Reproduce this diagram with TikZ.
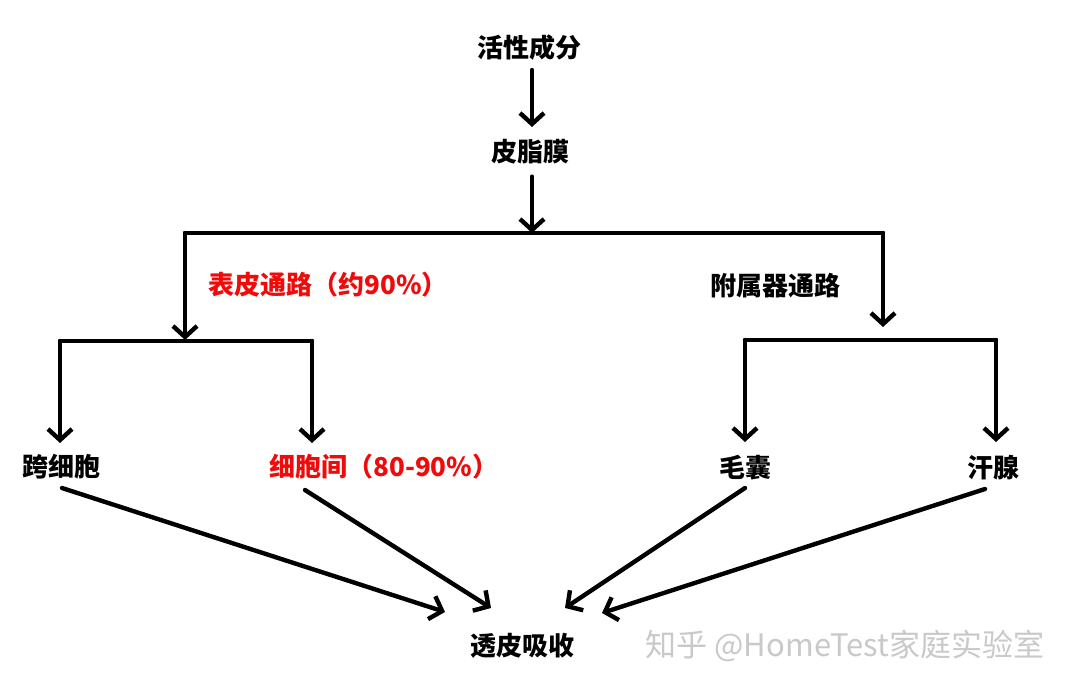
\documentclass[tikz,border=0pt]{standalone}
\usepackage{fontspec}
\newfontfamily\cjk{Noto Sans CJK SC}
\usetikzlibrary{arrows.meta}
\definecolor{redtxt}{RGB}{240,10,10}
\begin{document}
\begin{tikzpicture}[x=1pt,y=-1pt,
  lbl/.style={font=\cjk\bfseries\fontsize{26}{30}\selectfont, inner sep=0pt},
  redlbl/.style={lbl, text=redtxt},
  wire/.style={line width=4.4pt, line cap=round, line join=round},
  arr/.style={wire, -{Straight Barb[length=11pt,width=24pt,line width=4.4pt]}}]
\useasboundingbox[fill=white] (0,0) rectangle (1080,691);
% nodes
\node[lbl] (act) at (529,48) {活性成分};
\node[lbl] (sebum) at (530,152) {皮脂膜};
\node[redlbl] (epi) at (328,285) {表皮通路（约90\%）};
\node[lbl] (app) at (775,286) {附属器通路};
\node[lbl] (trans) at (62,467) {跨细胞};
\node[redlbl] (inter) at (384,467) {细胞间（80-90\%）};
\node[lbl] (hair) at (745,468) {毛囊};
\node[lbl] (sweat) at (993,468) {汗腺};
\node[lbl] (abs) at (522,646) {透皮吸收};
\node[font=\cjk\fontsize{31}{34}\selectfont, text=gray!42, inner sep=0pt] (wm) at (845,646) {知乎 @HomeTest家庭实验室};
% coordinates
\coordinate (b0) at (532,233);
\coordinate (bl) at (185,233);
\coordinate (br) at (883,233);
\coordinate (l0) at (185,340);
\coordinate (ll) at (60,341);
\coordinate (lr) at (312,341);
\coordinate (r0) at (883,327);
\coordinate (rl) at (745,340);
\coordinate (rr) at (996,340);
\coordinate (t1) at (445,612);
\coordinate (t2) at (491,608);
\coordinate (t3) at (565,608);
\coordinate (t4) at (602,613);
% vertical flow
\draw[arr] (532,70) -- (532,127);
\draw[arr] (sebum.south) ++(2,12) -- (b0);
% main split
\draw[wire] (bl) -- (br);
\draw[arr] (bl) -- (l0);
\draw[arr] (br) -- (r0);
% left split
\draw[wire] (ll) -- (lr);
\draw[arr] (ll) -- (60,443);
\draw[arr] (lr) -- (312,443);
% right split
\draw[wire] (rl) -- (rr);
\draw[arr] (rl) -- (745,442);
\draw[arr] (rr) -- (996,442);
% to absorption
\draw[arr] (62,488) -- (t1);
\draw[arr] (305,490) -- (t2);
\draw[arr] (745,488) -- (t3);
\draw[arr] (985,489) -- (t4);
\end{tikzpicture}
\end{document}
